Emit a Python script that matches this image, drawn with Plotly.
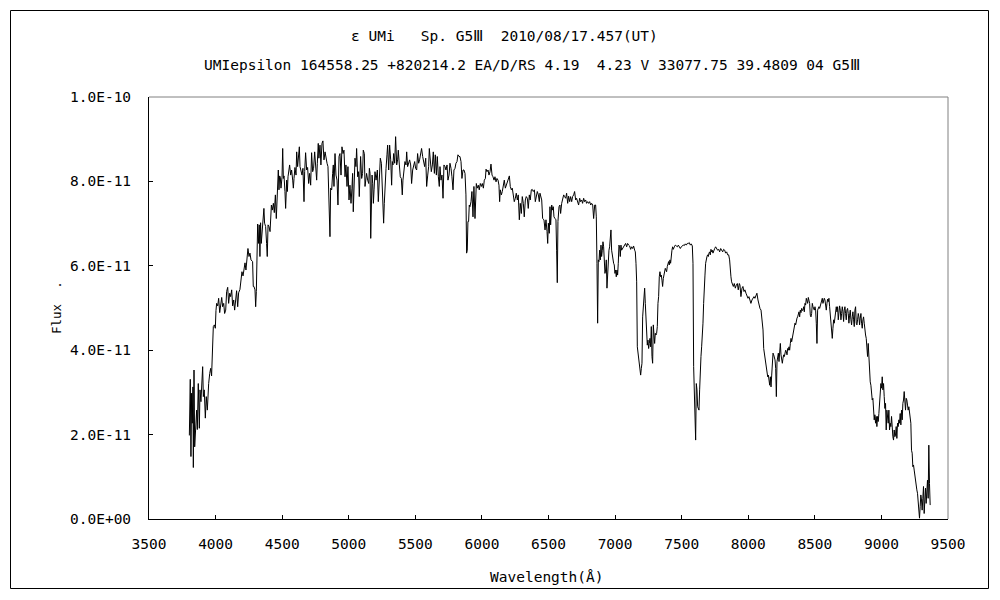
import plotly.graph_objects as go

# ---- data (wavelength in Angstrom, flux in units of 1e-11) ----
wl_blue = [3803,3810,3815,3820,3825,3830,3833,3838,3843,3850,3858,3863,3870,3878,3883,3890,3898,3903,3908,3915,
           3923,3930,3938,3943,3948,3956,3963,3970,3978,3983,3991,3998,4003,4008,4016,4023,4031,4038,4046,4053,
           4061,4068,4076,4083,4091,4098,4106,4113,4121,4128,4136,4143,4151,4158,4166,4173,4183,4191,4198,4206,
           4213,4221,4228,4236,4243,4251,4258,4266,4273,4278,4283,4288,4296,4301,4306,4311,4316,4323,4328,4333,
           4338,4343,4351,4358,4363,4368,4376,4383,4388,4394,4401,4409,4414,4419,4426,4434,4441,4449,4456,4464,
           4471,4476,4481,4486,4491,4499,4504,4509,4514,4521,4526,4534,4539,4544,4551,4556,4564,4571,4579,4584,
           4589,4596,4604,4609,4616,4624,4629,4634,4641,4649,4656,4664,4669,4676,4684,4691,4699,4706,4714,4721,
           4729,4736,4744,4751,4759,4764,4771,4776,4784,4791,4799,4806,4814,4822,4829,4837,4844,4849,4854,4859,
           4864,4872,4879,4884,4889,4897,4904,4912,4919,4927,4934]
flux_blue = [1.98,3.31,1.48,2.98,2.27,3.13,1.22,3.53,1.71,2.07,2.58,2.12,3.21,2.15,3.06,2.78,3.29,3.61,2.90,3.06,
             2.39,2.90,2.58,2.94,3.21,3.45,3.57,3.39,3.97,4.56,4.60,4.52,4.94,5.11,5.05,5.23,4.89,5.11,5.25,5.03,
             5.11,4.87,4.95,5.39,5.49,5.11,5.35,5.27,5.43,5.05,5.19,4.95,5.15,5.41,5.03,5.36,5.44,5.62,5.86,5.76,
             5.98,6.07,5.90,6.18,6.41,6.22,6.30,6.14,6.10,6.10,5.51,5.51,5.43,5.03,5.39,6.97,6.99,6.53,6.97,6.22,
             7.02,6.53,6.97,7.05,7.36,7.01,6.93,6.53,6.22,6.97,6.93,6.81,7.16,7.44,7.32,7.48,7.26,7.68,7.12,7.64,
             8.27,7.80,8.13,8.10,7.84,8.10,8.78,8.07,8.13,7.76,7.36,8.03,7.76,8.11,8.27,8.39,8.15,8.27,8.03,7.84,
             8.07,8.33,8.15,8.70,8.35,8.78,8.82,8.35,8.27,8.15,8.31,7.52,8.23,8.68,8.27,8.33,7.95,8.19,7.91,8.68,
             8.23,8.31,8.70,8.35,8.03,8.43,8.90,8.55,8.86,8.39,8.90,8.96,8.51,8.70,8.51,8.43,8.35,7.88,7.12,6.69,
             7.84,7.80,8.19,8.39,7.88,8.66,8.15,8.03,7.44,8.59,8.66]

wl_green = [4942,4949,4957,4964,4972,4979,4987,4994,5002,5009,5017,5024,5029,
            5034,5047,5054,5059,5067,5074,5079,5084,5089,5097,5104,5109,5117,5122,5129,5134,5142,
            5150,5155,5160,5165,5170,5175,5180,5185,5190,5197,5205,5210,5215,5222,5230,5237,5245,5250,5255,5262,
            5267,5275,5280,5287,5292,5300,5307,5315,5322,5327,5332,5337,5345,5352,5360,5367,5372,5380,5387,5395,
            5402,5407,5415,5422,5430,5435,5442,5450,5457,5465,5472,5480,5487,5495,5502,5510,5517,5525,5532,5540,
            5547,5555,5562,5570,5578,5585,5593,5600,5605,5613,5620,5628,5635,5643,5650,5658,5665,5673,5680,5685,
            5693,5700,5708,5715,5723,5730,5738,5745,5753,5760,5768,5775,5783,5790,5798,5805,5813,5820,5828,5835,
            5843,5850,5858,5865,5873,5880,5885,5890,5895,5900,5905,5910,5918,5925,5933,5940,5948,5953,5958,5965,
            5973,5980,5988,5996,6003,6011,6018,6026,6031,6038,6046,6053,6061,6068,6076,6083,6091,6098,6106,6113,
            6121,6128,6133,6138,6146,6153,6161,6168,6176,6183,6191,6198,6206,6213,6221,6228,6236,6243,6251,6258,
            6266,6273,6281,6288,6296,6303,6311,6318,6326,6333,6341,6348,6356,6363,6371,6378,6386,6394,6401,6409,
            6416,6424,6431]
flux_green = [8.15,8.82,8.66,8.74,8.11,8.39,7.88,8.35,7.56,7.91,7.48,7.84,8.19,
              7.28,8.55,8.35,8.78,8.11,8.23,7.64,8.31,8.59,8.07,8.19,8.74,8.66,7.88,8.07,8.19,8.03,
              7.95,8.31,8.19,6.65,7.88,8.15,7.95,7.48,7.80,8.23,8.03,8.11,8.27,7.52,8.03,8.55,8.43,7.95,7.44,7.01,
              7.48,8.23,8.31,8.63,8.86,8.27,8.86,8.51,7.91,8.47,8.39,8.66,8.43,9.06,8.39,8.51,8.74,8.39,8.11,8.07,
              7.68,8.03,8.39,8.47,8.39,8.70,8.35,8.47,8.51,8.39,7.95,8.27,8.39,8.47,8.31,8.27,8.66,8.43,8.51,8.74,
              8.78,8.59,8.47,8.35,8.55,7.88,8.15,8.35,8.78,8.47,8.23,8.39,8.70,8.19,8.63,8.15,8.59,8.11,7.88,8.35,
              8.03,8.15,7.60,8.39,8.35,8.27,8.39,8.03,8.15,8.43,8.31,8.11,7.80,8.27,8.31,8.43,8.47,8.63,8.59,8.59,
              8.47,8.07,8.27,8.27,8.19,7.68,6.30,6.37,7.05,7.05,7.44,7.40,7.52,7.76,7.16,7.88,7.12,7.68,7.95,7.84,
              7.91,7.80,7.95,7.88,7.95,7.84,8.03,8.07,8.29,8.23,8.27,8.15,8.23,8.41,8.15,8.11,8.03,8.11,7.99,8.07,
              8.03,7.91,7.52,7.80,7.68,7.76,7.95,8.03,7.84,7.91,7.99,8.03,8.13,7.88,7.80,7.84,7.64,7.52,7.60,7.72,
              7.56,7.68,7.09,7.48,7.24,7.64,7.48,7.16,7.56,7.64,7.60,7.36,7.68,7.56,7.80,7.81,7.76,7.80,7.52,7.64,
              7.76,7.68,7.52]

wl_red = [6436,6449,6456,6466,6474,6481,6489,6494,6499,6506,6511,6516,6524,6531,6536,6541,6549,6556,6561,6566,
          6571,6579,6586,6591,6599,6606,6614,6621,6629,6636,6644,6651,6659,6666,6674,6681,6689,6696,6704,6711,
          6719,6726,6734,6741,6749,6756,6764,6771,6779,6786,6794,6801,6809,6817,6824,6832,6839,6847,6854,6859,
          6864,6869,6874,6879,6884,6889,6894,6899,6904,6909,6914,6919,6924,6929,6934,6939,6944,6949,6954,6959,
          6964,6969,6974,6979,6984,6989,6994,6999,7004,7009,7014,7019,7024,7029,7034,7039,7044,7049,7057,7064,
          7072,7079,7087,7094,7102,7109,7117,7124,7132,7139,7147,7152,7157,7162,7167,7172,7177,7182,7187,7192,
          7197,7202,7207,7212,7217,7222,7227,7232,7237,7242,7247,7252,7257,7262,7267,7272,7277,7282,7287,7292,
          7297,7302,7307,7312,7317,7322,7327,7332,7337,7342,7347,7352,7357,7362,7367,7372,7377,7382,7387,7392,
          7397,7402,7407,7412,7417,7422,7427,7432,7437,7445,7452,7460,7467,7475,7482,7490,7497,7505,7512,7520,
          7527,7535,7542,7550,7557,7565,7572,7580,7585,7590,7595,7600,7605,7610,7615,7620,7625,7630,7635,7640,
          7645,7650,7655,7660,7665,7670,7675,7680,7685,7690,7695,7700,7705,7710,7715,7720,7725,7730,7735,7740,
          7748,7755,7763,7770,7778,7785,7793,7800,7808,7815,7823,7830,7838,7845,7853,7860,7865,7870,7875,7880,
          7888,7895,7903,7910,7918,7925,7933]
flux_red = [7.72,7.56,7.12,7.09,6.85,7.09,6.81,6.53,7.01,6.77,7.40,6.97,7.44,7.32,7.40,7.16,7.12,7.09,6.37,5.60,
            7.05,7.40,7.44,7.24,7.48,7.56,7.68,7.64,7.60,7.72,7.48,7.65,7.52,7.64,7.52,7.64,7.68,7.76,7.56,7.60,
            7.48,7.44,7.60,7.52,7.56,7.48,7.60,7.52,7.56,7.48,7.52,7.48,7.52,7.44,7.48,7.44,7.12,7.44,7.44,7.16,
            6.06,4.64,6.14,6.10,6.37,6.14,6.49,6.22,6.37,6.57,6.45,6.10,5.82,5.90,6.14,5.47,5.90,5.98,6.37,6.45,
            6.65,6.85,6.37,6.22,6.14,6.06,6.02,5.82,5.90,5.74,5.90,5.78,6.06,6.49,6.45,6.22,6.49,6.37,6.41,6.45,
            6.49,6.53,6.45,6.53,6.49,6.47,6.39,6.45,6.41,6.47,6.37,6.33,6.06,5.62,4.08,3.93,3.85,3.65,3.49,3.41,
            3.57,3.69,4.79,5.03,5.43,5.47,5.11,4.64,4.56,4.12,4.24,4.04,4.16,4.28,4.08,4.56,3.85,3.69,4.60,4.32,
            4.16,4.40,4.36,4.40,4.56,5.11,5.27,5.74,5.86,5.74,5.78,5.66,5.51,5.70,5.78,5.86,5.94,5.90,5.86,5.98,
            6.06,6.10,6.02,6.14,6.06,6.30,6.37,6.45,6.39,6.45,6.49,6.47,6.45,6.49,6.45,6.41,6.45,6.47,6.49,6.48,
            6.52,6.49,6.53,6.53,6.55,6.49,6.52,6.47,6.06,3.61,2.90,2.27,1.87,3.21,3.06,2.66,2.62,2.58,3.06,3.61,
            3.85,4.08,4.28,4.64,5.11,5.66,5.78,6.06,6.18,6.22,6.26,6.22,6.30,6.33,6.26,6.39,6.33,6.37,6.30,6.37,
            6.41,6.45,6.41,6.37,6.39,6.33,6.41,6.37,6.33,6.39,6.37,6.30,6.33,6.26,6.26,6.14,5.82,5.74,5.62,5.58,
            5.51,5.58,5.47,5.54,5.58,5.43,5.58]

wl_ir = [7938,7945,7953,7960,7968,7975,7983,7990,7998,8005,8013,8020,8028,8035,8043,8050,8058,8065,8073,8081,
         8088,8096,8103,8111,
         8116,8121,8126,8131,8136,8141,8146,8151,8156,8161,8166,8171,8176,8181,8186,8191,8196,8201,8206,8211,
         8216,8221,8226,8231,8236,8241,8246,8251,8256,8261,8266,8271,8276,8281,8286,8291,8296,8301,8306,8311,
         8316,8321,8326,8331,8336,8341,8346,8351,8356,8361,8366,8371,8376,8381,8386,8391,8396,8401,8406,8411,
         8416,8421,8426,8431,8436,8441,8446,8451,8456,8461,8466,8471,8476,8481,8486,8491,8496,8501,8506,8511,
         8516,8521,8526,8531,8536,8541,8546,8551,8556,8561,8566,8571,8576,8581,8586,8591,8596,8601,8606,8611,
         8616,8621,8626,8631,8636,8641,8646,8651,8656,8661,8666,8671,8676,8681,8686,8691,8696,8701,8706,8711,
         8716,8721,8726,8731,8736,8741,8746,8751,8756,8761,8766,8771,8776,8781,8786,8791,8796,8801,8806,8811,
         8816,8821,8826,8831,8836,8841,8846,8851,8856,8861,8866,8871,8876,8881,8886,8891,8896,8901,8906,8911,
         8916,8921,8926,8931,8936,8941,8946,8951,8956,8961,8966,8971,8976,8981,8986,8991,8996,9001,9006,9011,
         9016,9021,9026,9031,9036,9041,9046,9051,9056,9061,9066,9071,9076,9081,9086,9091,9096,9101,9106,9111,
         9116,9121,9126,9131,9136,9141,9146,9151,9156,9161,9166,9171,9176,9181,9186,9191,9196,9201,9206,9211,
         9216,9221,9226,9231,9236,9241,9246,9251,9256,9261,9266,9271,9276,9281,9286,9291,9296,9301,9306,9311,
         9316,9321,9326,9331,9336,9341,9346,9351,9356,9361,9366]
flux_ir = [5.54,5.27,5.47,5.51,5.39,5.43,5.35,5.31,5.23,5.27,5.19,5.11,5.19,5.23,5.27,5.23,5.31,5.35,5.19,5.03,
           4.99,4.95,4.72,4.48,
           4.04,3.93,3.85,3.69,3.61,3.45,3.37,3.41,3.21,3.17,3.37,3.13,3.41,3.69,3.93,3.89,3.85,3.77,3.57,2.90,
           3.73,3.85,3.93,3.73,4.08,4.16,3.89,3.77,3.69,3.81,3.89,3.85,3.93,4.00,3.97,3.89,4.04,4.00,4.08,4.00,
           4.16,4.28,4.20,4.28,4.40,4.52,4.56,4.64,4.60,4.72,4.76,4.79,4.87,4.91,4.79,4.95,4.89,4.99,4.94,4.95,
           5.03,4.91,5.11,5.07,5.23,5.19,5.11,5.25,5.19,5.11,4.83,4.79,4.87,5.11,5.03,4.99,4.95,5.03,4.95,4.64,
           4.16,4.95,4.99,5.03,4.99,5.07,5.11,5.19,5.23,5.11,5.15,5.23,5.19,5.11,4.95,5.11,5.21,5.15,5.23,5.03,
           4.87,4.72,4.60,4.28,4.52,4.72,4.64,4.79,4.91,5.03,4.91,5.03,4.72,4.99,5.05,4.95,4.72,4.87,5.03,4.91,
           4.68,4.95,5.03,4.87,4.72,4.95,4.99,4.87,4.64,4.83,4.95,4.72,4.60,4.79,4.91,4.72,4.56,4.95,5.03,4.64,
           4.60,4.72,4.87,4.79,4.60,4.76,4.87,4.64,4.52,4.72,4.79,4.64,4.44,4.36,4.28,4.08,3.85,4.16,3.69,3.37,
           3.25,3.17,3.02,2.82,2.86,2.50,2.35,2.47,2.27,2.43,2.19,2.43,2.31,2.50,2.74,3.06,3.21,3.10,3.37,3.06,
           3.21,2.90,2.62,2.74,2.11,2.58,2.39,2.27,2.58,2.11,2.27,2.19,2.43,2.03,1.95,1.87,2.11,1.95,1.99,2.19,
           1.91,2.27,2.19,2.35,2.27,2.50,2.23,2.58,2.35,2.74,2.82,3.02,2.62,2.58,2.86,2.82,2.70,2.58,2.66,2.47,
           2.39,2.27,1.63,1.56,1.24,1.28,1.16,1.00,0.89,0.73,0.69,0.61,0.37,0.21,0.02,0.29,0.57,0.45,0.21,0.49,
           0.77,0.13,0.49,0.73,0.37,0.69,0.92,0.49,1.75,0.84,0.33]

x_ticks = [3500, 4000, 4500, 5000, 5500, 6000, 6500, 7000, 7500, 8000, 8500, 9000, 9500]
y_ticks = [0, 2e-11, 4e-11, 6e-11, 8e-11, 1e-10]
y_tick_labels = ["0.0E+00", "2.0E-11", "4.0E-11", "6.0E-11", "8.0E-11", "1.0E-10"]

title_line1 = "ε UMi   Sp. G5Ⅲ  2010/08/17.457(UT)"
title_line2 = "UMIepsilon 164558.25 +820214.2 EA/D/RS 4.19  4.23 V 33077.75 39.4809 04 G5Ⅲ"
x_title = "Wavelength(Å)"
y_title = "Flux  ."

wavelength = wl_blue + wl_green + wl_red + wl_ir
flux = [v * 1e-11 for v in (flux_blue + flux_green + flux_red + flux_ir)]

FONT = "DejaVu Sans Mono"

# The page body has an 8 px margin, so the figure starts at (8, 8) on screen.
OFF = 8
W, H = 1000, 600
# plot-area edges in screen pixels
L, R, T, B = 149, 948, 97, 519
pw, ph = R - L, B - T


def px(xp):
    return (xp - L) / pw


def py(yp):
    return (B - yp) / ph


fig = go.Figure(go.Scatter(x=wavelength, y=flux, mode="lines",
                           line=dict(color="black", width=1), hoverinfo="skip"))

fig.update_layout(
    width=W, height=H,
    margin=dict(l=L - OFF, r=W - (R - OFF), t=T - OFF, b=H - (B - OFF), pad=0),
    paper_bgcolor="white", plot_bgcolor="white",
    showlegend=False,
    xaxis=dict(range=[3500, 9500], tickvals=x_ticks, ticks="inside", ticklen=4,
               tickcolor="black", showline=True, linecolor="black", linewidth=1,
               showgrid=False, zeroline=False, ticklabelstandoff=12,
               tickfont=dict(family=FONT, size=14.5, color="black")),
    yaxis=dict(range=[0, 1e-10], tickvals=y_ticks, ticktext=y_tick_labels,
               ticks="inside", ticklen=4, tickcolor="black", showline=True,
               linecolor="black", linewidth=1, showgrid=False, zeroline=False,
               ticklabelstandoff=14,
               tickfont=dict(family=FONT, size=14.5, color="black")),
    shapes=[
        dict(type="line", xref="paper", yref="paper", x0=0, x1=1, y0=1, y1=1,
             line=dict(color="#808080", width=1)),
        dict(type="line", xref="paper", yref="paper", x0=1, x1=1, y0=0, y1=1,
             line=dict(color="#808080", width=1)),
        dict(type="rect", xref="paper", yref="paper", x0=px(10.5), x1=px(988.5),
             y0=py(588.5), y1=py(10.5), line=dict(color="black", width=1)),
    ],
    annotations=[
        dict(text=title_line1, xref="paper", yref="paper", x=px(504.5), y=py(36),
             xanchor="center", yanchor="middle", showarrow=False,
             font=dict(family=FONT, size=14.5, color="black")),
        dict(text=title_line2, xref="paper", yref="paper", x=px(532), y=py(65),
             xanchor="center", yanchor="middle", showarrow=False,
             font=dict(family=FONT, size=14.5, color="black")),
        dict(text=x_title, xref="paper", yref="paper", x=px(547), y=py(577),
             xanchor="center", yanchor="middle", showarrow=False,
             font=dict(family=FONT, size=14.5, color="black")),
        dict(text=y_title, xref="paper", yref="paper", x=px(56), y=py(308),
             xanchor="center", yanchor="middle", showarrow=False, textangle=-90,
             font=dict(family=FONT, size=12.5, color="black")),
    ],
)

fig.write_html("out.html")
